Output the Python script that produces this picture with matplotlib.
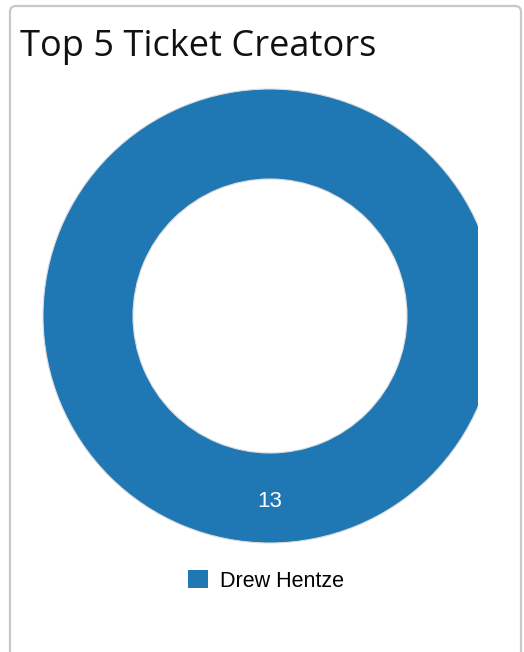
import matplotlib.pyplot as plt
from matplotlib.patches import FancyBboxPatch, Patch

# data
title = 'Top 5 Ticket Creators'
creators = ['Drew Hentze']
tickets = [13]
colors = ['#1f77b4']

W, H = 524, 652
fig = plt.figure(figsize=(W / 100, H / 100), dpi=100)
fig.patch.set_facecolor('white')

# background card (pixel coordinates, y downward)
bg = fig.add_axes([0, 0, 1, 1])
bg.set_xlim(0, W)
bg.set_ylim(H, 0)
bg.axis('off')
card = FancyBboxPatch((10, 6), 511, 700, boxstyle='round,pad=0,rounding_size=6',
                      facecolor='white', edgecolor='#c8c8c8', linewidth=1.6)
bg.add_patch(card)
bg.text(20, 56, title, fontsize=26, family='Open Sans', color='#111111',
        ha='left', va='baseline')

# donut plot area (clipped on the right like the original)
left, right, top, bottom = 20, 478, 80, 560
ax = fig.add_axes([left / W, 1 - bottom / H, (right - left) / W, (bottom - top) / H])

total = sum(tickets)
wedges, _, autotexts = ax.pie(
    tickets, colors=colors, radius=227, center=(270, -316),
    startangle=90, counterclock=False,
    wedgeprops=dict(width=90, edgecolor='#dcdcdc', linewidth=0.8),
    autopct=lambda p: f'{p * total / 100:.0f}', pctdistance=0.815,
    textprops=dict(color='white', fontsize=16, family='Liberation Sans'),
    frame=True)
for w in wedges:
    w.set_clip_on(True)
ax.set_xlim(left, right)
ax.set_ylim(-bottom, -top)
ax.axis('off')

handles = [Patch(facecolor=c, edgecolor='none') for c in colors]
fig.legend(handles, creators, loc='center', bbox_to_anchor=(266 / W, 1 - 581 / H),
           frameon=False, prop=dict(family='Liberation Sans', size=15.5),
           handlelength=0.9, handleheight=0.85, handletextpad=0.55)

fig.savefig('out.png', dpi=100)
